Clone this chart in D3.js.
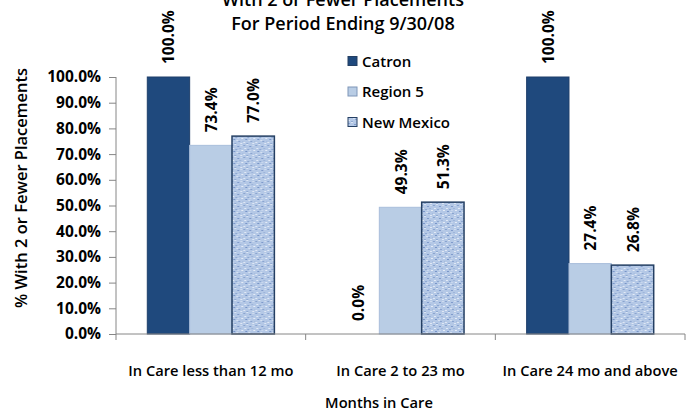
<!DOCTYPE html>
<html><head><meta charset="utf-8">
<script src="https://cdn.jsdelivr.net/npm/d3@7"></script>
<style>
body{margin:0;background:#fff;}
text{font-family:"Open Sans","Noto Sans",sans-serif;fill:#000;}
</style></head>
<body>
<svg id="chart" width="689" height="413"></svg>
<script>
const categories = ["In Care less than 12 mo","In Care 2 to 23 mo","In Care 24 mo and above"];
const seriesNames = ["Catron","Region 5","New Mexico"];
const catron = [100.0, 0.0, 100.0];
const region5 = [73.4, 49.3, 27.4];
const newMexico = [77.0, 51.3, 26.8];
const yTicks = [0,10,20,30,40,50,60,70,80,90,100];
const titleLines = ["With 2 or Fewer Placements","For Period Ending 9/30/08"];

const seriesValues = [catron, region5, newMexico];
const svg = d3.select("#chart");
const m = {left:116, right:4, top:77, bottom:79};

const defs = svg.append("defs");
const pat = defs.append("pattern").attr("id","tex").attr("patternUnits","userSpaceOnUse")
  .attr("width",12).attr("height",12);
pat.append("rect").attr("width",12).attr("height",12).attr("fill","#b4c8e6");
// deterministic speckle texture
const speck = [[0,1,"#8aa4cf"],[3,0,"#dbe5f3"],[6,2,"#7f9acb"],[9,1,"#cfdcef"],[1,4,"#e2eaf6"],[4,5,"#8ea8d2"],[8,4,"#9db4da"],[10,6,"#e5ecf7"],[2,7,"#7895c8"],[5,8,"#d6e1f2"],[7,9,"#8aa4cf"],[11,9,"#a4badc"],[0,10,"#dfe7f4"],[3,11,"#90aad3"],[9,11,"#e0e8f5"],[6,6,"#c8d7ee"]];
speck.forEach(([x,y,c])=>pat.append("rect").attr("x",x).attr("y",y).attr("width",2).attr("height",1).attr("fill",c));

const x0 = d3.scaleBand().domain(categories).range([m.left, 685]).paddingInner(0.33).paddingOuter(0.165);
const x1 = d3.scaleBand().domain(seriesNames).range([0, x0.bandwidth()]);
const y = d3.scaleLinear().domain([0,100]).range([334, 77]);

const fills = ["#1f497d","#b9cde5","url(#tex)"];
const strokes = ["#1f3f6b","#a9bedb","#243f63"];
const sw = [1,1,1.5];

// title
svg.append("g").selectAll("text").data(titleLines).join("text")
  .attr("x",343).attr("y",(d,i)=>6+i*24).attr("text-anchor","middle")
  .style("font-size","18px").style("font-weight","600").text(d=>d);

// bars
const groups = svg.append("g").selectAll("g").data(categories).join("g")
  .attr("transform",d=>`translate(${x0(d)},0)`);
groups.selectAll("rect").data((d,ci)=>seriesNames.map((s,si)=>({s,si,v:seriesValues[si][ci]})))
  .join("rect")
  .attr("x",d=>x1(d.s)).attr("width",x1.bandwidth())
  .attr("y",d=>y(d.v)).attr("height",d=>y(0)-y(d.v))
  .attr("fill",d=>fills[d.si]).attr("stroke",d=>d.v>0?strokes[d.si]:"none").attr("stroke-width",d=>sw[d.si]);

// value labels
groups.selectAll("text.val").data((d,ci)=>seriesNames.map((s,si)=>({s,si,v:seriesValues[si][ci]})))
  .join("text").attr("class","val")
  .attr("transform",d=>`translate(${x1(d.s)+x1.bandwidth()/2+6},${y(d.v)-13}) rotate(-90)`)
  .style("font-size","15.5px").style("font-weight","700")
  .text(d=>d.v.toFixed(1)+"%");

// y axis
const yAxis = d3.axisLeft(y).tickValues(yTicks).tickFormat(d=>d.toFixed(1)+"%").tickSize(7).tickPadding(8);
const gy = svg.append("g").attr("transform",`translate(${m.left},0)`).call(yAxis);
gy.select(".domain").attr("stroke","#868686").attr("d",`M-0,${y(100)}V${y(0)}`);
gy.selectAll(".tick line").attr("stroke","#868686");
gy.selectAll(".tick text").style("font-size","15.5px").style("font-weight","700").attr("fill","#000")
  .style("font-family",'"Open Sans",sans-serif');

// x axis
const gx = svg.append("g").attr("transform",`translate(0,${y(0)})`);
gx.append("line").attr("x1",m.left).attr("x2",685).attr("y1",0).attr("y2",0).attr("stroke","#868686");
const tickXs = [m.left].concat(categories.map(c=>x0(c)+x0.bandwidth()+x0.step()*x0.paddingInner()/2));
gx.selectAll("line.t").data(tickXs).join("line").attr("class","t")
  .attr("x1",d=>d).attr("x2",d=>d).attr("y1",0).attr("y2",6).attr("stroke","#868686");
gx.selectAll("text").data(categories).join("text")
  .attr("x",d=>x0(d)+x0.bandwidth()/2).attr("y",42).attr("text-anchor","middle")
  .style("font-size","14.7px").style("font-weight","600").text(d=>d);

// axis titles
svg.append("text").attr("transform","translate(27,188) rotate(-90)").attr("text-anchor","middle")
  .style("font-size","16.5px").style("font-weight","600").text("% With 2 or Fewer Placements");
svg.append("text").attr("x",379).attr("y",408).attr("text-anchor","middle")
  .style("font-size","14.7px").style("font-weight","600").text("Months in Care");

// legend
const lg = svg.append("g").selectAll("g").data(seriesNames).join("g")
  .attr("transform",(d,i)=>`translate(348,${61+i*30.5})`);
lg.append("rect").attr("x",0).attr("y",-4.5).attr("width",9).attr("height",9)
  .attr("fill",(d,i)=>fills[i]).attr("stroke",(d,i)=>i===1?"#7f96b8":"#243f63").attr("stroke-width",1);
lg.append("text").attr("x",14).attr("y",5.5).style("font-size","15px").style("font-weight","600").text(d=>d);
</script>
</body></html>
